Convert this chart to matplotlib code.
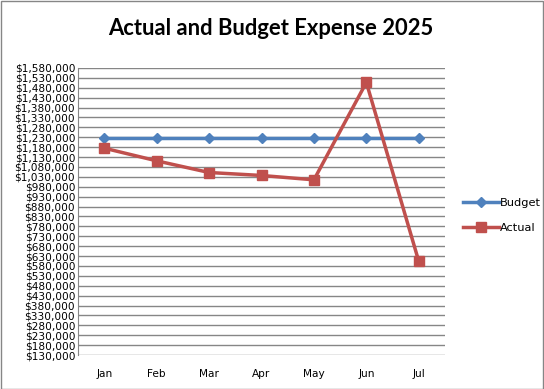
import matplotlib
matplotlib.use("Agg")
import matplotlib.pyplot as plt
from matplotlib.patches import Rectangle
from matplotlib.ticker import FuncFormatter

months = ["Jan", "Feb", "Mar", "Apr", "May", "Jun", "Jul"]
budget = [1225000, 1225000, 1225000, 1225000, 1225000, 1225000, 1225000]
actual = [1175000, 1111000, 1052000, 1037000, 1015000, 1507000, 603000]
y_ticks = list(range(130000, 1580001, 50000))

fig = plt.figure(figsize=(5.44, 3.89), dpi=100)
ax = fig.add_axes([0.1434, 0.0874, 0.6746, 0.7378])

x = range(len(months))
ax.plot(x, budget, color="#4F81BD", lw=2.5, marker="D", markersize=5, label="Budget")
ax.plot(x, actual, color="#C0504D", lw=2.5, marker="s", markersize=6.5, label="Actual")

ax.set_xlim(-0.5, len(months) - 0.5)
ax.set_ylim(130000, 1580000)
ax.set_yticks(y_ticks)
ax.yaxis.set_major_formatter(FuncFormatter(lambda v, p: "${:,.0f}".format(v)))
ax.set_xticks(list(x))
ax.set_xticklabels(months)
ax.tick_params(axis="y", length=0, labelsize=7.6, pad=2)
ax.tick_params(axis="x", length=0, labelsize=7.6, pad=10)
ax.grid(axis="y", color="#868686", lw=1)
ax.set_axisbelow(True)
for s in ["top", "right", "bottom"]:
    ax.spines[s].set_visible(False)
ax.spines["left"].set_color("#868686")

ax.legend(loc="center left", bbox_to_anchor=(1.02, 0.485), frameon=False,
          fontsize=8.2, handlelength=3.2, labelspacing=1.3, handletextpad=0.1)

fig.text(0.497, 0.928, "Actual and Budget Expense 2025", ha="center", va="center",
         fontsize=15.8, fontweight="bold", family="Lato")

fig.patches.append(Rectangle((0.001, 0.001), 0.997, 0.997, transform=fig.transFigure,
                             fill=False, edgecolor="#868686", lw=1))

fig.savefig("out.png", dpi=100)
